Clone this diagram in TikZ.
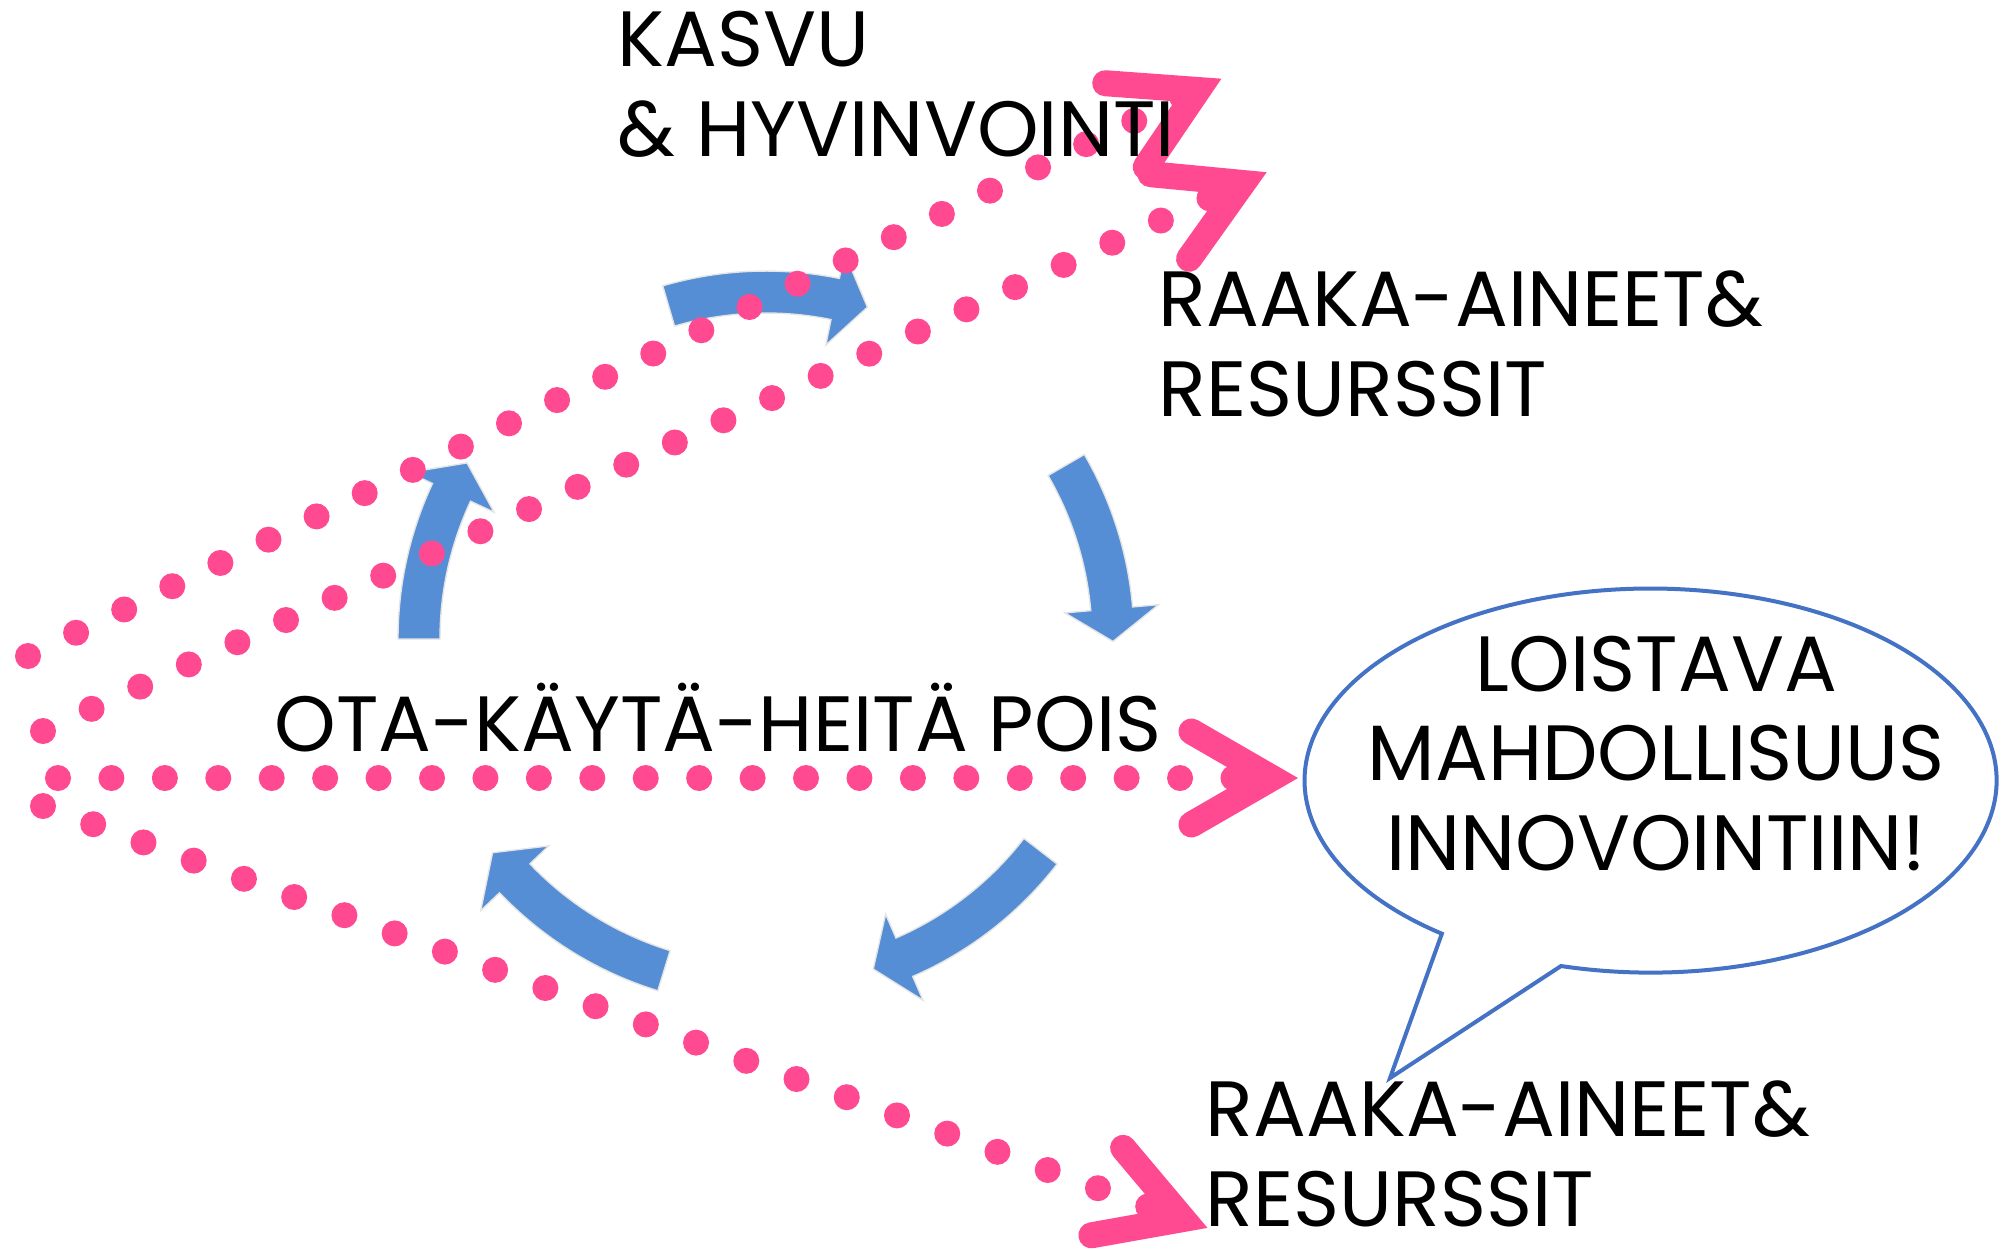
\documentclass[tikz,border=0pt]{standalone}
\usepackage{fontspec}
\setmainfont{Poppins}
\usetikzlibrary{calc}
\definecolor{dotpink}{RGB}{255,74,145}
\definecolor{cycleblue}{RGB}{85,142,213}
\definecolor{bubbleblue}{RGB}{68,114,196}

\tikzset{
  dotline/.style={dotpink, line width=0.26cm, line cap=round, dash pattern=on 0cm off 0.534cm},
  chevron/.style={dotpink, line width=0.26cm, line cap=round, line join=miter},
  cyclearrow/.style={fill=cycleblue, draw=black!10, line width=0.4pt},
  bubble/.style={draw=bubbleblue, fill=white, line width=0.04cm, line join=miter},
  lbl/.style={font=\fontsize{22.3pt}{25.4pt}\selectfont, inner sep=0pt, align=left},
}

% curved block arrow on the cycle: start, end of shaft, tip (angles)
\newcommand{\cyclearr}[3]{%
  \path[cyclearrow] (#1:368) arc[start angle=#1, end angle=#2, radius=368]
    -- (#2:394) -- (#3:347) -- (#2:300) -- (#2:326)
    arc[start angle=#2, end angle=#1, radius=326] -- cycle;}

\begin{document}
\begin{tikzpicture}[x=0.01cm, y=-0.01cm]
\useasboundingbox (0,0) rectangle (2003,1250);

% the cycle
\begin{scope}[shift={(766,639)}]
\cyclearr{180}{205}{210.5}
\cyclearr{253.7}{281.5}{287}
\cyclearr{329.9}{355}{360.4}
\cyclearr{37.7}{66.5}{72}
\cyclearr{107.1}{136.4}{142}
\end{scope}

% dotted lines
\coordinate (s1) at (28,656);  \coordinate (t1) at (1198,90);
\coordinate (s2) at (43,731);  \coordinate (t2) at (1243,183);
\coordinate (s3) at (58,778);  \coordinate (t3) at (1272,778);
\coordinate (s4) at (43,806);  \coordinate (t4) at (1183,1219);

\foreach \i in {1,...,4} {
  \draw[dotline] (s\i) -- (t\i);
  \draw[chevron] ($(t\i)!0.93cm!30:(s\i)$) -- (t\i) -- ($(t\i)!0.93cm!-30:(s\i)$);
}

% labels (base = last line)
\node[lbl, anchor=base west] (kasvu) at (617,156) {KASVU\\\& HYVINVOINTI};
\node[lbl, anchor=base west] (raaka1) at (1158,416) {RAAKA-AINEET\&\\RESURSSIT};
\node[lbl, anchor=base west] (ota) at (274,751) {OTA-KÄYTÄ-HEITÄ POIS};
\node[lbl, anchor=base west] (raaka2) at (1205,1226) {RAAKA-AINEET\&\\RESURSSIT};

% speech bubble
\draw[bubble] (1561,966) arc[start angle=105, end angle=-232.9, x radius=346, y radius=192]
  -- (1390,1078) -- cycle;
\node[lbl, align=center, anchor=base] (idea) at (1656,870) {LOISTAVA\\MAHDOLLISUUS\\INNOVOINTIIN!};

\end{tikzpicture}
\end{document}
